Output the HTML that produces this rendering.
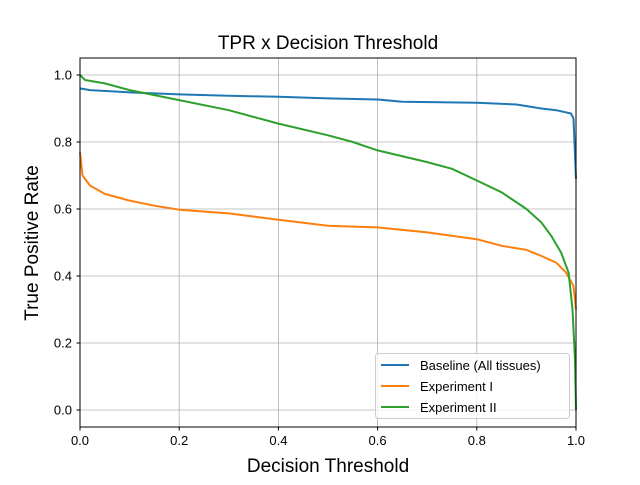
<!DOCTYPE html>
<html><head><meta charset="utf-8"><style>
body{margin:0;background:#fff}
svg text{font-family:"Liberation Sans","DejaVu Sans",sans-serif}
</style></head><body>
<svg id="chart" width="640" height="480" viewBox="0 0 640 480">
<rect width="640" height="480" fill="#fff"/>
<text x="328" y="49" text-anchor="middle" font-size="19">TPR x Decision Threshold</text>
<g id="grid"></g>
<g id="ticks"></g>
<g id="series"></g>
<rect x="80" y="58" width="496" height="369" fill="none" stroke="#000" stroke-width="1"/>
<text x="328" y="472" text-anchor="middle" font-size="19">Decision Threshold</text>
<text transform="translate(38,243) rotate(-90)" text-anchor="middle" font-size="19">True Positive Rate</text>
<g>
<rect x="375.5" y="353.5" width="194" height="65" rx="3" fill="#fff" fill-opacity="0.8" stroke="#ccc"/>
<line x1="381" y1="365" x2="409" y2="365" stroke="#1f77b4" stroke-width="2"/>
<text x="420" y="370" font-size="13">Baseline (All tissues)</text>
<line x1="381" y1="386" x2="409" y2="386" stroke="#ff7f0e" stroke-width="2"/>
<text x="420" y="391" font-size="13">Experiment I</text>
<line x1="381" y1="407" x2="409" y2="407" stroke="#2ca02c" stroke-width="2"/>
<text x="420" y="412" font-size="13">Experiment II</text>
</g>
</svg>
<script>
const xTicks=[0,0.2,0.4,0.6,0.8,1.0];
const yTicks=[0,0.2,0.4,0.6,0.8,1.0];
const xTickLabels=["0.0","0.2","0.4","0.6","0.8","1.0"];
const yTickLabels=["0.0","0.2","0.4","0.6","0.8","1.0"];
const baselineX=[0,0.02,0.1,0.2,0.3,0.4,0.5,0.6,0.65,0.8,0.88,0.93,0.96,0.99,0.995,1.0];
const baselineY=[0.96,0.955,0.948,0.942,0.938,0.935,0.93,0.927,0.92,0.917,0.912,0.9,0.895,0.885,0.87,0.69];
const exp1X=[0,0.005,0.02,0.05,0.1,0.15,0.2,0.3,0.4,0.5,0.6,0.7,0.8,0.85,0.9,0.93,0.96,0.98,0.995,1.0];
const exp1Y=[0.77,0.7,0.67,0.645,0.625,0.61,0.598,0.587,0.568,0.55,0.545,0.53,0.51,0.49,0.478,0.46,0.44,0.41,0.37,0.3];
const exp2X=[0,0.01,0.05,0.1,0.15,0.2,0.3,0.4,0.5,0.55,0.6,0.7,0.75,0.8,0.85,0.9,0.93,0.95,0.97,0.985,0.993,0.998,1.0];
const exp2Y=[1.0,0.985,0.975,0.955,0.94,0.925,0.895,0.855,0.82,0.8,0.775,0.74,0.72,0.685,0.65,0.6,0.56,0.52,0.47,0.41,0.3,0.15,0.0];
const NS="http://www.w3.org/2000/svg";
const sx=v=>80+v*496;
const sy=v=>410-v*335;
function mk(tag,attrs,parent){const e=document.createElementNS(NS,tag);for(const k in attrs)e.setAttribute(k,attrs[k]);parent.appendChild(e);return e;}
const grid=document.getElementById('grid'),ticks=document.getElementById('ticks'),series=document.getElementById('series');
xTicks.forEach((t,i)=>{
 const g=mk('line',{x1:sx(t),x2:sx(t),y1:58,y2:427,stroke:'#b0b0b0','stroke-width':0.8},grid);
 
 
 const tk=mk('line',{x1:sx(t),x2:sx(t),y1:427,y2:430.5,stroke:'#000'},ticks);
 
 
 const tx=mk('text',{x:sx(t),y:445,'text-anchor':'middle','font-size':13},ticks);
 tx.textContent=xTickLabels[i];
 
 
});
yTicks.forEach((t,i)=>{
 const g=mk('line',{x1:80,x2:576,y1:sy(t),y2:sy(t),stroke:'#b0b0b0','stroke-width':0.8},grid);
 
 
 const tk=mk('line',{x1:76.5,x2:80,y1:sy(t),y2:sy(t),stroke:'#000'},ticks);
 
 
 const tx=mk('text',{x:72,y:sy(t)+4.5,'text-anchor':'end','font-size':13},ticks);
 tx.textContent=yTickLabels[i];
 
 
});
function line(xs,ys,color,name){
 const d=xs.map((x,i)=>(i?'L':'M')+sx(x).toFixed(1)+','+sy(ys[i]).toFixed(1)).join('');
 const p=mk('path',{d:d,fill:'none',stroke:color,'stroke-width':2,'stroke-linejoin':'round'},series);
 
 
}
line(baselineX,baselineY,'#1f77b4','baseline-line');
line(exp1X,exp1Y,'#ff7f0e','experiment-i-line');
line(exp2X,exp2Y,'#2ca02c','experiment-ii-line');
</script>
</body></html>
